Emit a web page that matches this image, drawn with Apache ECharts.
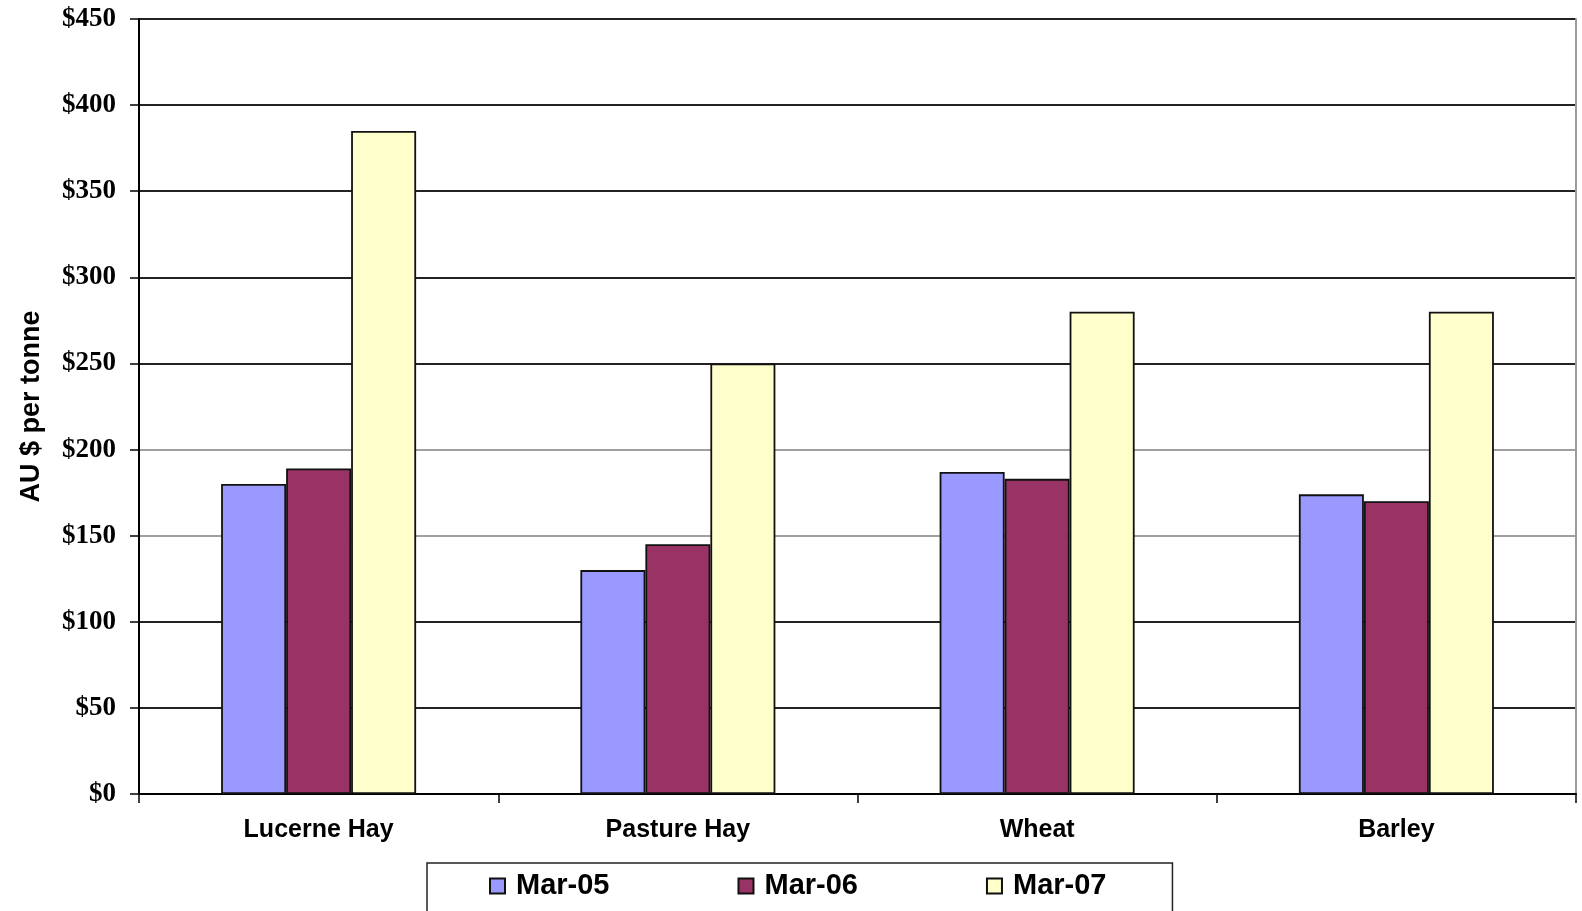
<!DOCTYPE html>
<html>
<head>
<meta charset="utf-8">
<title>Fodder and grain prices</title>
<script src="https://cdn.jsdelivr.net/npm/echarts@6/dist/echarts.min.js"></script>
<style>
  html, body { margin: 0; padding: 0; background: #ffffff; }
  #chart { width: 1582px; height: 911px; }
</style>
</head>
<body>
<div id="chart"></div>
<script>
// Commodities along the x axis
const categories = ['Lucerne Hay', 'Pasture Hay', 'Wheat', 'Barley'];

// Price in AU $ per tonne at each date
const seriesNames = ['Mar-05', 'Mar-06', 'Mar-07'];
const mar05 = [180, 130, 187, 174];
const mar06 = [189, 145, 183, 170];
const mar07 = [385, 250, 280, 280];

// Value axis range and step
const yMin = 0;
const yMax = 450;
const yStep = 50;

const colors = ['#9999FF', '#993366', '#FFFFCC'];
const values = [mar05, mar06, mar07];

const chart = echarts.init(document.getElementById('chart'), null, { renderer: 'canvas' });

const barSeries = seriesNames.map((name, i) => ({
  name: name,
  type: 'bar',
  data: values[i],
  barWidth: 65,
  barGap: '0%',
  itemStyle: {
    color: colors[i],
    borderColor: '#111111',
    borderWidth: 1.8
  }
}));

chart.setOption({
  animation: false,
  backgroundColor: '#ffffff',
  grid: {
    left: 139,
    right: 6,
    top: 19,
    height: 775,
    containLabel: false,
    outerBoundsMode: 'none'
  },
  legend: {
    data: seriesNames,
    left: 427,
    top: 863,
    orient: 'horizontal',
    icon: 'rect',
    itemWidth: 15,
    itemHeight: 15,
    itemGap: 128,
    padding: [8, 66, 30, 62],
    borderColor: '#222222',
    borderWidth: 1.5,
    textStyle: {
      fontFamily: 'Liberation Sans, Arial, sans-serif',
      fontWeight: 'bold',
      fontSize: 29,
      color: '#000000',
      lineHeight: 30,
      padding: [0, 0, 0, 6]
    }
  },
  xAxis: {
    type: 'category',
    data: categories,
    axisLine: { show: true, lineStyle: { color: '#000000', width: 2 } },
    axisTick: { show: true, length: 9, lineStyle: { color: '#000000', width: 1.5 } },
    axisLabel: {
      margin: 24,
      fontFamily: 'Liberation Sans, Arial, sans-serif',
      fontWeight: 'bold',
      fontSize: 25,
      color: '#000000'
    },
    splitLine: { show: false }
  },
  yAxis: [
    {
      type: 'value',
      min: yMin,
      max: yMax,
      interval: yStep,
      name: 'AU $ per tonne',
      nameLocation: 'middle',
      nameRotate: 90,
      nameGap: 94,
      nameTextStyle: {
        fontFamily: 'Liberation Sans, Arial, sans-serif',
        fontWeight: 'bold',
        fontSize: 27,
        color: '#000000'
      },
      axisLine: { show: true, lineStyle: { color: '#000000', width: 2 } },
      axisTick: { show: true, length: 9, lineStyle: { color: '#000000', width: 1.5 } },
      axisLabel: {
        margin: 23,
        fontFamily: 'Liberation Serif, Times New Roman, serif',
        fontWeight: 'bold',
        fontSize: 27,
        color: '#000000',
        formatter: v => '$' + v
      },
      splitLine: {
        show: true,
        lineStyle: {
          color: ['#222222', '#222222', '#222222', '#a0a0a0', '#a0a0a0',
                  '#222222', '#222222', '#222222', '#222222', '#222222'],
          width: 2
        }
      }
    },
    {
      // plain right-hand edge of the plot area
      type: 'value',
      position: 'right',
      min: yMin,
      max: yMax,
      interval: yStep,
      axisLine: { show: true, lineStyle: { color: '#9a9a9a', width: 2 } },
      axisTick: { show: false },
      axisLabel: { show: false },
      splitLine: { show: false }
    }
  ],
  series: barSeries
});
</script>
</body>
</html>
